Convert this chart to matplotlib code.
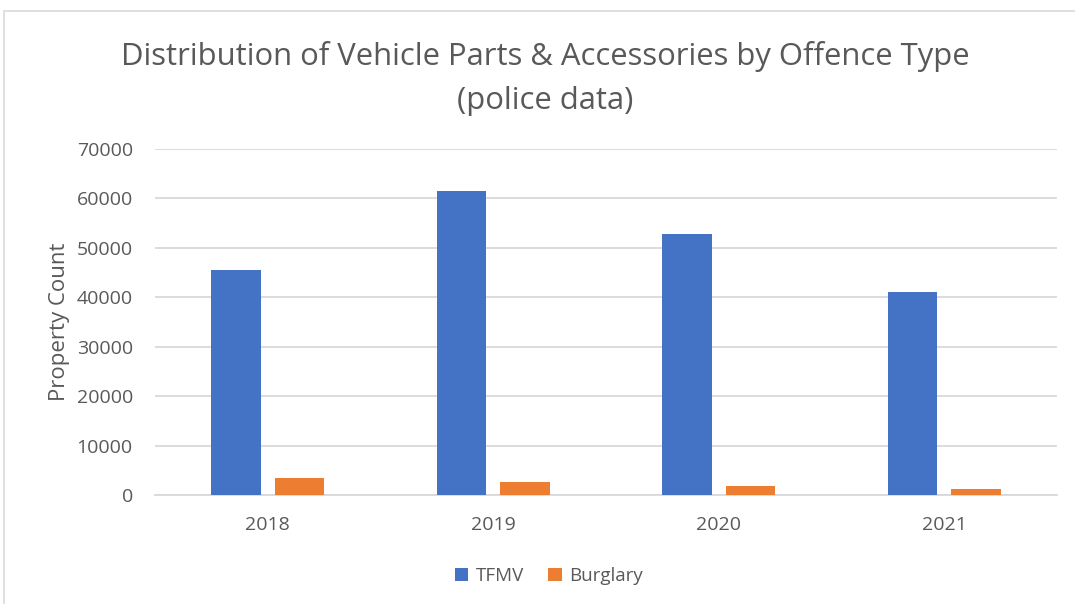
import matplotlib
matplotlib.use("Agg")
import matplotlib.pyplot as plt
import numpy as np
from matplotlib.patches import Rectangle

years = ["2018", "2019", "2020", "2021"]
tfmv = [45500, 61500, 52900, 41100]
burglary = [3500, 2700, 1900, 1300]
series_names = ["TFMV", "Burglary"]
yticks = [0, 10000, 20000, 30000, 40000, 50000, 60000, 70000]

blue = "#4472C4"
orange = "#ED7D31"
grey_text = "#595959"
grid_col = "#D9D9D9"

plt.rcParams["font.family"] = ["Open Sans", "DejaVu Sans"]

fig = plt.figure(figsize=(10.75, 6.04), dpi=100)
fig.patch.set_facecolor("white")

# chart-area frame
fig.patches.append(Rectangle((4 / 1075, -0.05), 1.1, 1 - 11 / 604 + 0.05,
                             transform=fig.transFigure, fill=False,
                             edgecolor=grid_col, linewidth=1.2))

ax = fig.add_axes([155 / 1075, 1 - 495 / 604, (1057 - 155) / 1075, (495 - 149) / 604])
x = np.arange(len(years))
w = 0.22
gap = 0.06
ax.bar(x - (w + gap) / 2, tfmv, width=w, color=blue, label=series_names[0], zorder=3)
ax.bar(x + (w + gap) / 2, burglary, width=w, color=orange, label=series_names[1], zorder=3)

ax.set_xlim(-0.5, len(years) - 0.5)
ax.set_ylim(0, 70000)
ax.set_yticks(yticks)
ax.set_yticklabels([str(v) for v in yticks])
ax.set_xticks(x)
ax.set_xticklabels(years)
ax.yaxis.grid(True, color=grid_col, linewidth=1.3, zorder=0)
ax.set_axisbelow(True)
for s in ["top", "right", "left"]:
    ax.spines[s].set_visible(False)
ax.spines["bottom"].set_color(grid_col)
ax.spines["bottom"].set_linewidth(1.3)
ax.tick_params(axis="both", length=0, colors=grey_text, labelsize=14)
ax.tick_params(axis="y", pad=16)
ax.tick_params(axis="x", pad=15)
ax.set_ylabel("Property Count", color=grey_text, fontsize=16, labelpad=5)

fig.text(545 / 1075, 1 - 57 / 604, "Distribution of Vehicle Parts & Accessories by Offence Type",
         ha="center", va="center", fontsize=22.3, color=grey_text)
fig.text(545 / 1075, 1 - 101 / 604, "(police data)",
         ha="center", va="center", fontsize=22.3, color=grey_text)

fig.legend(loc="center", bbox_to_anchor=(549 / 1075, 1 - 576 / 604), ncol=2,
           frameon=False, fontsize=13.5, labelcolor=grey_text,
           handlelength=0.7, handleheight=0.7, handletextpad=0.4, columnspacing=1.3)

fig.savefig("out.png", dpi=100, facecolor="white")
